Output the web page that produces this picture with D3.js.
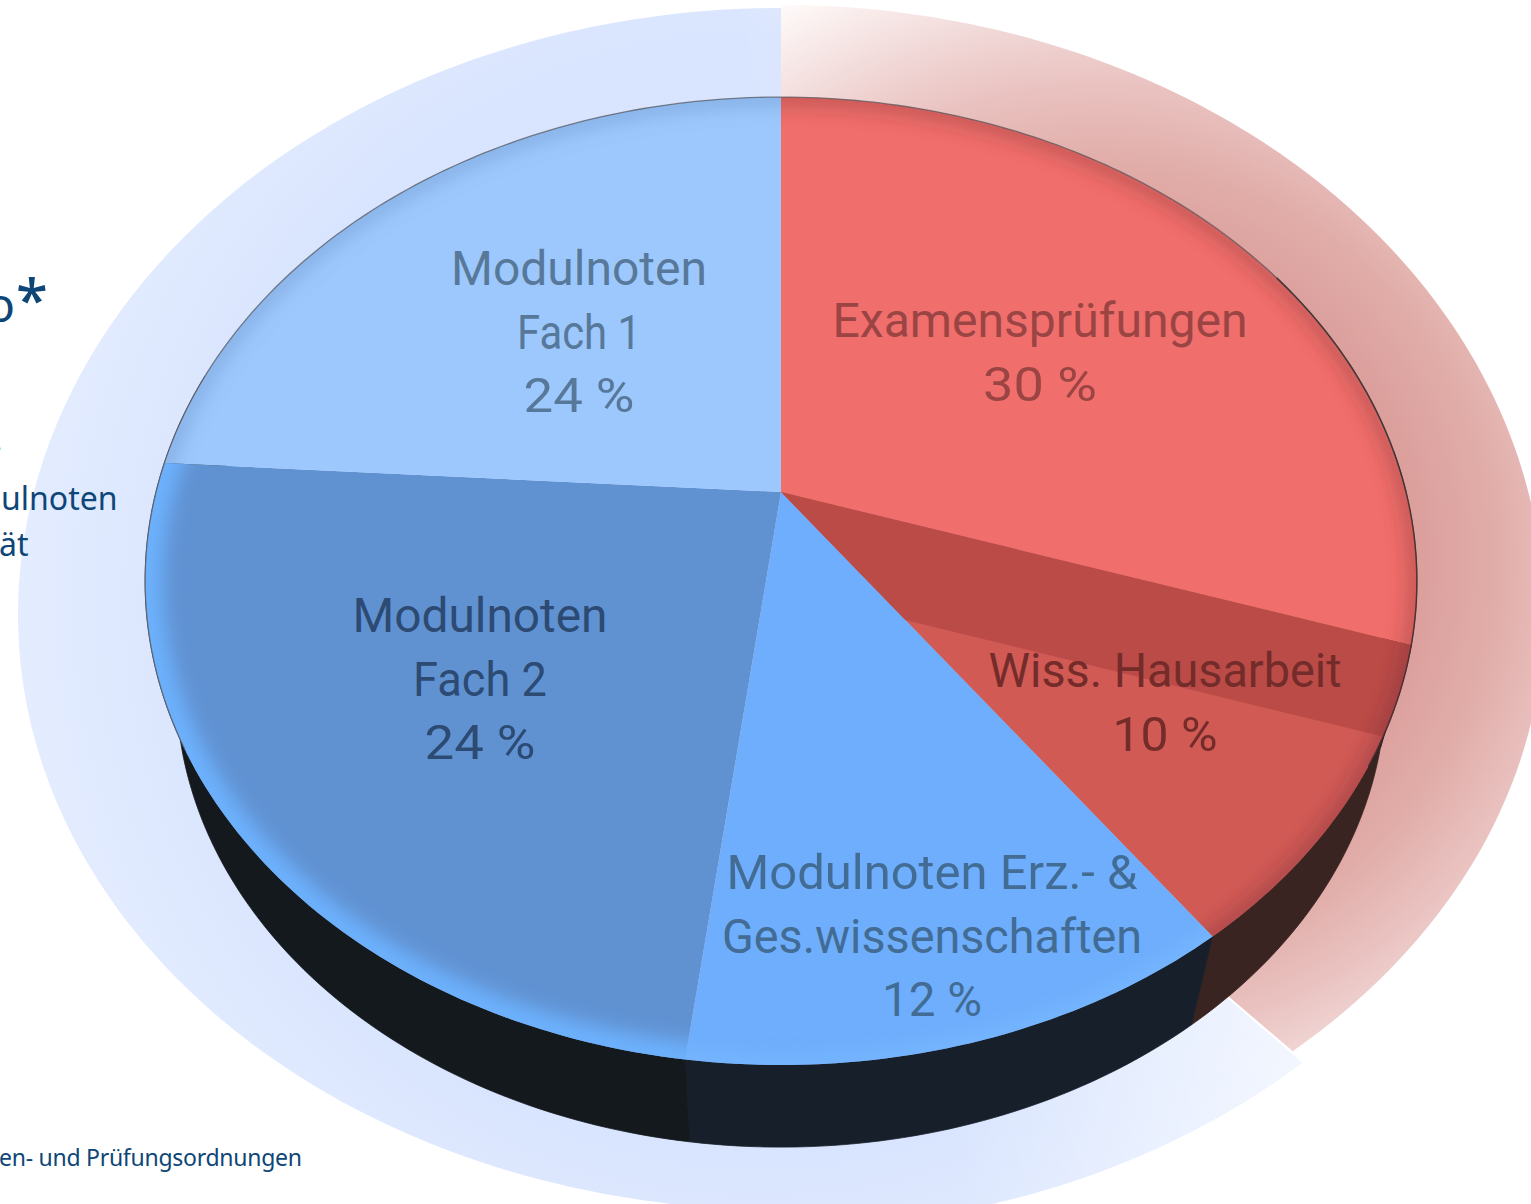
<!DOCTYPE html>
<html>
	<head>
		<meta charset="utf-8"/>
		<script src="https://d3js.org/d3.v7.min.js"></script>
		<style>
			html, body { margin: 0; padding: 0; background: #fff; overflow: hidden; }
			svg { display: block; }
			.label { font-family: Roboto, sans-serif; font-size: 47.5px; text-anchor: middle; }
			.side-text { font-family: "Noto Sans", sans-serif; fill: #0d4677; }
		</style>
	</head>
	<body>
		<svg id="chart" width="1531" height="1204"></svg>
		<script>
			// shares of the final grade, clockwise from the top
			var categories = ['Examensprüfungen', 'Wiss. Hausarbeit', 'Modulnoten Erz.- & Ges.wissenschaften', 'Modulnoten Fach 2', 'Modulnoten Fach 1'];
			var values = [30, 10, 12, 24, 24];
			var labelLines = [
				['Examensprüfungen', '30 %'],
				['Wiss. Hausarbeit', '10 %'],
				['Modulnoten Erz.- &', 'Ges.wissenschaften', '12 %'],
				['Modulnoten', 'Fach 2', '24 %'],
				['Modulnoten', 'Fach 1', '24 %']
			];
			// the pale ring behind the pie, red part and blue part
			var haloRedValues = [38.3, 61.7];
			var haloBlueValues = [38.03, 61.97];

			// look of the slices, separate from the values
			var faceColors = ['#f06e6b', '#d15a55', '#6eaefc', '#6092d2', '#9cc8fd'];
			var sideColors = ['#3a2421', '#3a2421', '#17202a', '#14191e', '#14191e'];
			var textColors = ['#9a4544', '#732c2a', '#426c94', '#2c4a72', '#587899'];
			var rimColors = ['#6b2f30', '#6b2f30', '#7abaff', '#6db2ff', '#4f77ad'];
			var rimOpacity = [0.3, 0.35, 0.8, 0.95, 0.28];
			var rimWidth = [20, 18, 14, 36, 20];
			var labelX = [1040, 1165, 932, 480, 579];
			var labelY = [337, 687, 889, 632, 285];
			var labelWidths = [[415, 114], [353, 105], [411, 420, 100], [255, 134, 111], [256, 124, 111]];
			var lineGap = 63.7;

			var svg = d3.select('#chart');
			var defs = svg.append('defs');
			var openLine = d3.line();
			var closedLine = d3.line().curve(d3.curveLinearClosed);

			// the pie is seen in perspective: circle -> screen
			var cx = 781, cy = 492, a = 625, b = 467.6, k = -0.184;
			function project(r, t) {
				var u = r*Math.sin(t), v = -r*Math.cos(t), w = 1 + k*v;
				return [cx + a*u/w, cy + b*v/w];
			}
			// lower rim, pulled towards a far point below
			var depthScale = 0.951, vanishY = 2740;
			function projectLow(r, t) {
				var p = project(r, t);
				return [cx + (p[0]-cx)*depthScale, vanishY + (p[1]-vanishY)*depthScale];
			}
			function arc(fn, r, t0, t1) {
				var n = Math.max(2, Math.ceil(Math.abs(t1-t0)*60));
				return d3.range(n+1).map(i => fn(r, t0 + (t1-t0)*i/n));
			}
			var rad = d => d*Math.PI/180;

			var slices = d3.pie().sort(null)(values);
			var haloRedSlices = d3.pie().sort(null)(haloRedValues);
			var haloBlueSlices = d3.pie().sort(null)(haloBlueValues);

			function gradient(kind, id, attrs, stops) {
				var g = defs.append(kind).attr('id', id).attr('gradientUnits', 'userSpaceOnUse');
				Object.keys(attrs).forEach(n => g.attr(n, attrs[n]));
				stops.forEach(s => {
					g.append('stop').attr('offset', s[0]).attr('stop-color', s[1]).attr('stop-opacity', s[2] === undefined ? 1 : s[2]);
				});
			}
			gradient('radialGradient', 'haloRed', {cx: 1100, cy: 560, r: 640},
				[[0.45, '#d99a97'], [0.62, '#e1ada9'], [0.75, '#eac4c2'], [0.86, '#f2dcdb'], [1, '#fefbfa']]);
			gradient('radialGradient', 'haloBlue', {cx: 760, cy: 600, r: 780},
				[[0.72, '#d9e5fe'], [1, '#e6eeff']]);
			gradient('linearGradient', 'haloFade', {x1: 950, y1: 1130, x2: 1310, y2: 1060},
				[[0, '#fff', 0], [1, '#fff', 0.6]]);
			defs.append('filter').attr('id', 'soft')
				.attr('x', '-10%').attr('y', '-10%').attr('width', '120%').attr('height', '120%')
				.append('feGaussianBlur').attr('stdDeviation', 9);

			// halo. lower half of the ellipse is a bit flatter than the upper one
			function haloPoint(topRy, lowLeftRy, lowRightRy) {
				return function(r, t) {
					var c = Math.cos(t), s = Math.sin(t);
					var ry = c > 0 ? topRy : (s < 0 ? lowLeftRy : lowRightRy);
					return [781 + 763*s, 615 - ry*c];
				};
			}
			var haloBlue = haloPoint(607, 595, 613), haloRed = haloPoint(610, 595, 588);
			var hb = haloBlueSlices[1], hr = haloRedSlices[0];
			var bluePath = closedLine([[781, 615]].concat(arc(haloBlue, 1, hb.startAngle, hb.endAngle)));
			svg.append('path').attr('d', bluePath).attr('fill', 'url(#haloBlue)');
			svg.append('path').attr('d', bluePath).attr('fill', 'url(#haloFade)');
			svg.append('path')
				.attr('d', closedLine([[781, 615]].concat(arc(haloRed, 1, hr.startAngle, hr.endAngle))))
				.attr('fill', 'url(#haloRed)');

			// text left over from the page around the chart, cut off at the edge
			svg.append('text').attr('class', 'side-text').attr('x', -14).attr('y', 322).attr('font-size', 48).text('o');
			svg.append('text').attr('class', 'side-text').attr('x', 16).attr('y', 321).attr('font-size', 58).attr('font-weight', 500).text('*');
			svg.append('text').attr('class', 'side-text').attr('x', -9).attr('y', 458).attr('font-size', 32).text('-');
			svg.append('text').attr('class', 'side-text').attr('x', 1).attr('y', 510).attr('font-size', 32).text('ulnoten');
			svg.append('text').attr('class', 'side-text').attr('x', -1).attr('y', 556).attr('font-size', 32).text('ät');
			svg.append('text').attr('class', 'side-text').attr('x', -1).attr('y', 1166).attr('font-size', 23).attr('textLength', 303).text('en- und Prüfungsordnungen');

			// side wall: from the right end of the pie round to the left end
			slices.forEach((d, i) => {
				var t0 = Math.max(d.startAngle, rad(85)), t1 = Math.min(d.endAngle, rad(285));
				if (t1 <= t0) return;
				var pts = arc(project, 1, t0, t1).concat(arc(projectLow, 1, t1, t0));
				svg.append('path').attr('d', closedLine(pts))
					.attr('fill', sideColors[i]).attr('stroke', sideColors[i]).attr('stroke-width', 0.8);
			});

			// top face
			slices.forEach((d, i) => {
				var pts = [project(0, 0)].concat(arc(project, 1, d.startAngle, d.endAngle));
				svg.append('path').attr('class', 'slice').attr('d', closedLine(pts)).attr('fill', faceColors[i]);
				defs.append('clipPath').attr('id', 'sliceClip' + i)
					.append('path').attr('d', closedLine(pts));
			});

			// shadow band inside the Hausarbeit slice
			var wiss = slices[1];
			var bandRim = rad(118.5), bandInner = 0.322;
			svg.append('path')
				.attr('d', closedLine([project(0, 0)].concat(arc(project, 1, wiss.startAngle, bandRim), [project(bandInner, wiss.endAngle)])))
				.attr('fill', '#bb4b47');

			// soft light and shade along the rim, one per slice
			slices.forEach((d, i) => {
				svg.append('g').attr('clip-path', 'url(#sliceClip' + i + ')')
					.append('path').attr('d', openLine(arc(project, 1, d.startAngle - 0.2, d.endAngle + 0.2)))
					.attr('fill', 'none').attr('stroke', rimColors[i]).attr('stroke-width', rimWidth[i])
					.attr('stroke-opacity', rimOpacity[i]).attr('filter', 'url(#soft)');
			});

			svg.append('path').attr('d', openLine(arc(project, 1, rad(-120), rad(90))))
				.attr('fill', 'none').attr('stroke', '#5a5a60').attr('stroke-width', 1.3).attr('stroke-opacity', 0.75);
			svg.append('path').attr('d', openLine(arc(project, 1, rad(60), rad(122))))
				.attr('fill', 'none').attr('stroke', '#3a2a2c').attr('stroke-width', 1.5).attr('stroke-opacity', 0.8);

			// labels
			labelLines.forEach((lines, i) => {
				lines.forEach((line, j) => {
					svg.append('text').attr('class', 'label').attr('fill', textColors[i])
						.attr('x', labelX[i])
						.attr('y', labelY[i] + j*lineGap)
						.attr('textLength', labelWidths[i][j])
						.attr('lengthAdjust', 'spacingAndGlyphs')
						.text(line);
				});
			});
		</script>
	</body>
</html>
